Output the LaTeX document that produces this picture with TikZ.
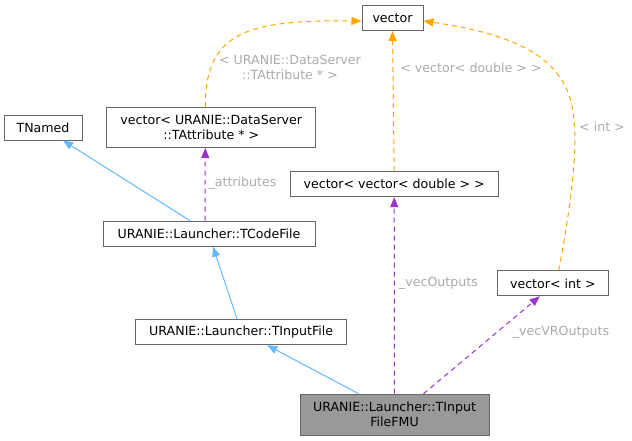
\documentclass[tikz,border=0pt]{standalone}
\usepackage{fontspec}
\setmainfont{DejaVu Sans}
\usetikzlibrary{arrows.meta}

\definecolor{boxline}{HTML}{666666}
\definecolor{inherit}{HTML}{63B8FF}
\definecolor{member}{HTML}{9A32CD}
\definecolor{templ}{HTML}{FFA500}
\definecolor{lbltext}{HTML}{AAAAAA}
\definecolor{current}{HTML}{999999}

\begin{document}
\begin{tikzpicture}[x=1pt, y=-1pt,
  font=\fontsize{12.6}{15}\selectfont,
  cls/.style={draw=boxline, line width=1pt, inner sep=0pt, align=center, minimum height=25pt},
  lbl/.style={text=lbltext, align=center, inner sep=0pt},
  base/.style={draw=inherit, line width=1pt, -{Triangle[length=10pt, width=8pt]}},
  uses/.style={draw=member, line width=1pt, dash pattern=on 5pt off 4pt, -{Triangle[length=10pt, width=8pt]}},
  inst/.style={draw=templ, line width=1pt, dash pattern=on 5pt off 4pt, -{Triangle[length=10pt, width=8pt]}}]
\useasboundingbox (0,0) rectangle (632,440);

\node[cls, minimum width=61pt] at (392.5,18) (vector) {vector};
\node[cls, minimum width=78pt] at (43,127.5) (tnamed) {TNamed};
\node[cls, minimum width=209pt, minimum height=40pt] at (211.3,127.5) (attrvec) {vector< URANIE::DataServer\\::TAttribute * >};
\node[cls, minimum width=208pt] at (394.2,184.2) (dblvec) {vector< vector< double > >};
\node[cls, minimum width=212pt] at (209,233.7) (codefile) {URANIE::Launcher::TCodeFile};
\node[cls, minimum width=111pt] at (552.8,283.3) (intvec) {vector< int >};
\node[cls, minimum width=211pt] at (241.2,332.2) (inputfile) {URANIE::Launcher::TInputFile};
\node[cls, minimum width=189pt, minimum height=41pt, fill=current] at (394.5,414.7) (fmu) {URANIE::Launcher::TInput\\FileFMU};

\draw[base] ([xshift=-19pt]codefile.north) to ([xshift=20pt]tnamed.south);
\draw[base] ([xshift=-4pt]inputfile.north) to ([xshift=4pt]codefile.south);
\draw[base] ([xshift=-36pt]fmu.north) to ([xshift=26pt]inputfile.south);

\draw[uses] ([xshift=-4pt]codefile.north) to ([xshift=-6pt]attrvec.south);
\draw[uses] (fmu.north) to (dblvec.south);
\draw[uses] ([xshift=29pt]fmu.north) to ([xshift=-13pt]intvec.south);

\draw[inst] ([xshift=-6pt]attrvec.north) .. controls (205,30) and (250,20) .. ([yshift=-3pt]vector.west);
\draw[inst] (dblvec.north) to (vector.south);
\draw[inst] ([xshift=6pt]intvec.north) .. controls (568,220) and (578,160) .. (574,120)
  .. controls (570,60) and (520,35) .. ([yshift=-3pt]vector.east);

\node[lbl] at (290,67.5) (attrtpl) {< URANIE::DataServer\\::TAttribute * >};
\node[lbl] at (471,68) (dbltpl) {< vector< double > >};
\node[lbl] at (602,127) (inttpl) {< int >};
\node[lbl] at (242.5,183) (attrname) {\_attributes};
\node[lbl] at (438.5,283) (outname) {\_vecOutputs};
\node[lbl] at (561,332) (vrname) {\_vecVROutputs};
\end{tikzpicture}
\end{document}
